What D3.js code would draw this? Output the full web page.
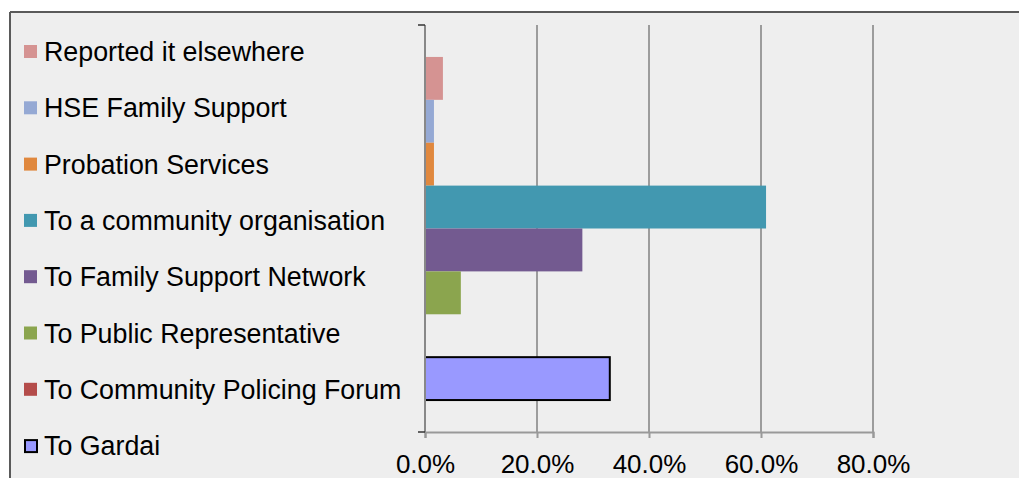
<!DOCTYPE html>
<html><head><meta charset="utf-8">
<script src="https://cdn.jsdelivr.net/npm/d3@7"></script>
<style>html,body{margin:0;padding:0;background:#fff;}svg{display:block;}</style>
</head><body>
<script>
const series = ["Reported it elsewhere","HSE Family Support","Probation Services","To a community organisation","To Family Support Network","To Public Representative","To Community Policing Forum","To Gardai"];
const values = [3.2, 1.6, 1.6, 60.9, 28.1, 6.4, 0, 33.0];
const colors = ["#D59392","#95A9D4","#E0883E","#4298B0","#735A90","#8BA54E","#B44C4A","#9999FF"];
const xTicks = [0, 20, 40, 60, 80];

const W = 1019, H = 478;
const svg = d3.select("body").append("svg").attr("width", W).attr("height", H);
const font = "'Liberation Sans', Arial, sans-serif";

// chart area
svg.append("rect").attr("x", 10).attr("y", 12).attr("width", W).attr("height", H).attr("fill", "#EEEEEE");
svg.append("line").attr("x1", 10).attr("x2", W).attr("y1", 12).attr("y2", 12).attr("stroke", "#5a5a5a").attr("stroke-width", 2);
svg.append("line").attr("x1", 10).attr("x2", 10).attr("y1", 12).attr("y2", H).attr("stroke", "#5a5a5a").attr("stroke-width", 2);

const plot = {left: 425, right: 873, top: 25, bottom: 432};
const x = d3.scaleLinear().domain([0, 80]).range([plot.left, plot.right]);
const y = d3.scaleBand().domain(series).range([plot.top, plot.bottom]).paddingOuter(0.745).paddingInner(0);

// gridlines
svg.append("g").selectAll("line").data(xTicks.filter(d => d > 0)).join("line")
  .attr("x1", d => x(d)).attr("x2", d => x(d)).attr("y1", plot.top).attr("y2", plot.bottom)
  .attr("stroke", "#808080").attr("stroke-width", 1.5);

// bars
svg.append("g").selectAll("rect").data(series).join("rect")
  .attr("x", x(0)).attr("y", d => y(d))
  .attr("width", (d, i) => x(values[i]) - x(0))
  .attr("height", y.bandwidth())
  .attr("fill", (d, i) => colors[i])
  .attr("stroke", (d, i) => i === 7 ? "#000" : "none")
  .attr("stroke-width", 2)
  .attr("display", (d, i) => values[i] > 0 ? null : "none");

// x axis
const xAxis = svg.append("g").attr("transform", `translate(0,${plot.bottom})`)
  .call(d3.axisBottom(x).tickValues(xTicks).tickSize(6).tickFormat(d => d.toFixed(1) + "%"));
xAxis.select(".domain").attr("stroke", "#999").attr("stroke-width", 2);
xAxis.selectAll(".tick line").attr("stroke", "#999").attr("stroke-width", 2);
xAxis.selectAll(".tick text").attr("font-family", font).attr("font-size", 26).attr("fill", "#000").attr("dy", null).attr("y", 41);

// y axis
const yAxis = svg.append("g").attr("transform", `translate(${plot.left},0)`);
yAxis.append("line").attr("x1", 0).attr("x2", 0).attr("y1", plot.top).attr("y2", plot.bottom).attr("stroke", "#888").attr("stroke-width", 2);
yAxis.selectAll(".yt").data([plot.top, plot.bottom]).join("line").attr("class", "yt")
  .attr("x1", -7).attr("x2", 0).attr("y1", d => d).attr("y2", d => d).attr("stroke", "#333").attr("stroke-width", 1.5);

// legend
const legStep = 56.3, legTop = 61;
const leg = svg.append("g").selectAll("g").data(series).join("g")
  .attr("transform", (d, i) => `translate(24,${legTop + i * legStep})`);
leg.append("rect").attr("x", (d, i) => i === 7 ? 1 : 0).attr("y", (d, i) => i === 7 ? -15 : -16)
  .attr("width", (d, i) => i === 7 ? 12 : 13).attr("height", (d, i) => i === 7 ? 12 : 13)
  .attr("fill", (d, i) => colors[i])
  .attr("stroke", (d, i) => i === 7 ? "#000" : "none").attr("stroke-width", 2);
leg.append("text").attr("x", 20).attr("y", 0).attr("font-family", font).attr("font-size", 26.8)
  .attr("fill", "#000").text(d => d);
</script>
</body></html>
